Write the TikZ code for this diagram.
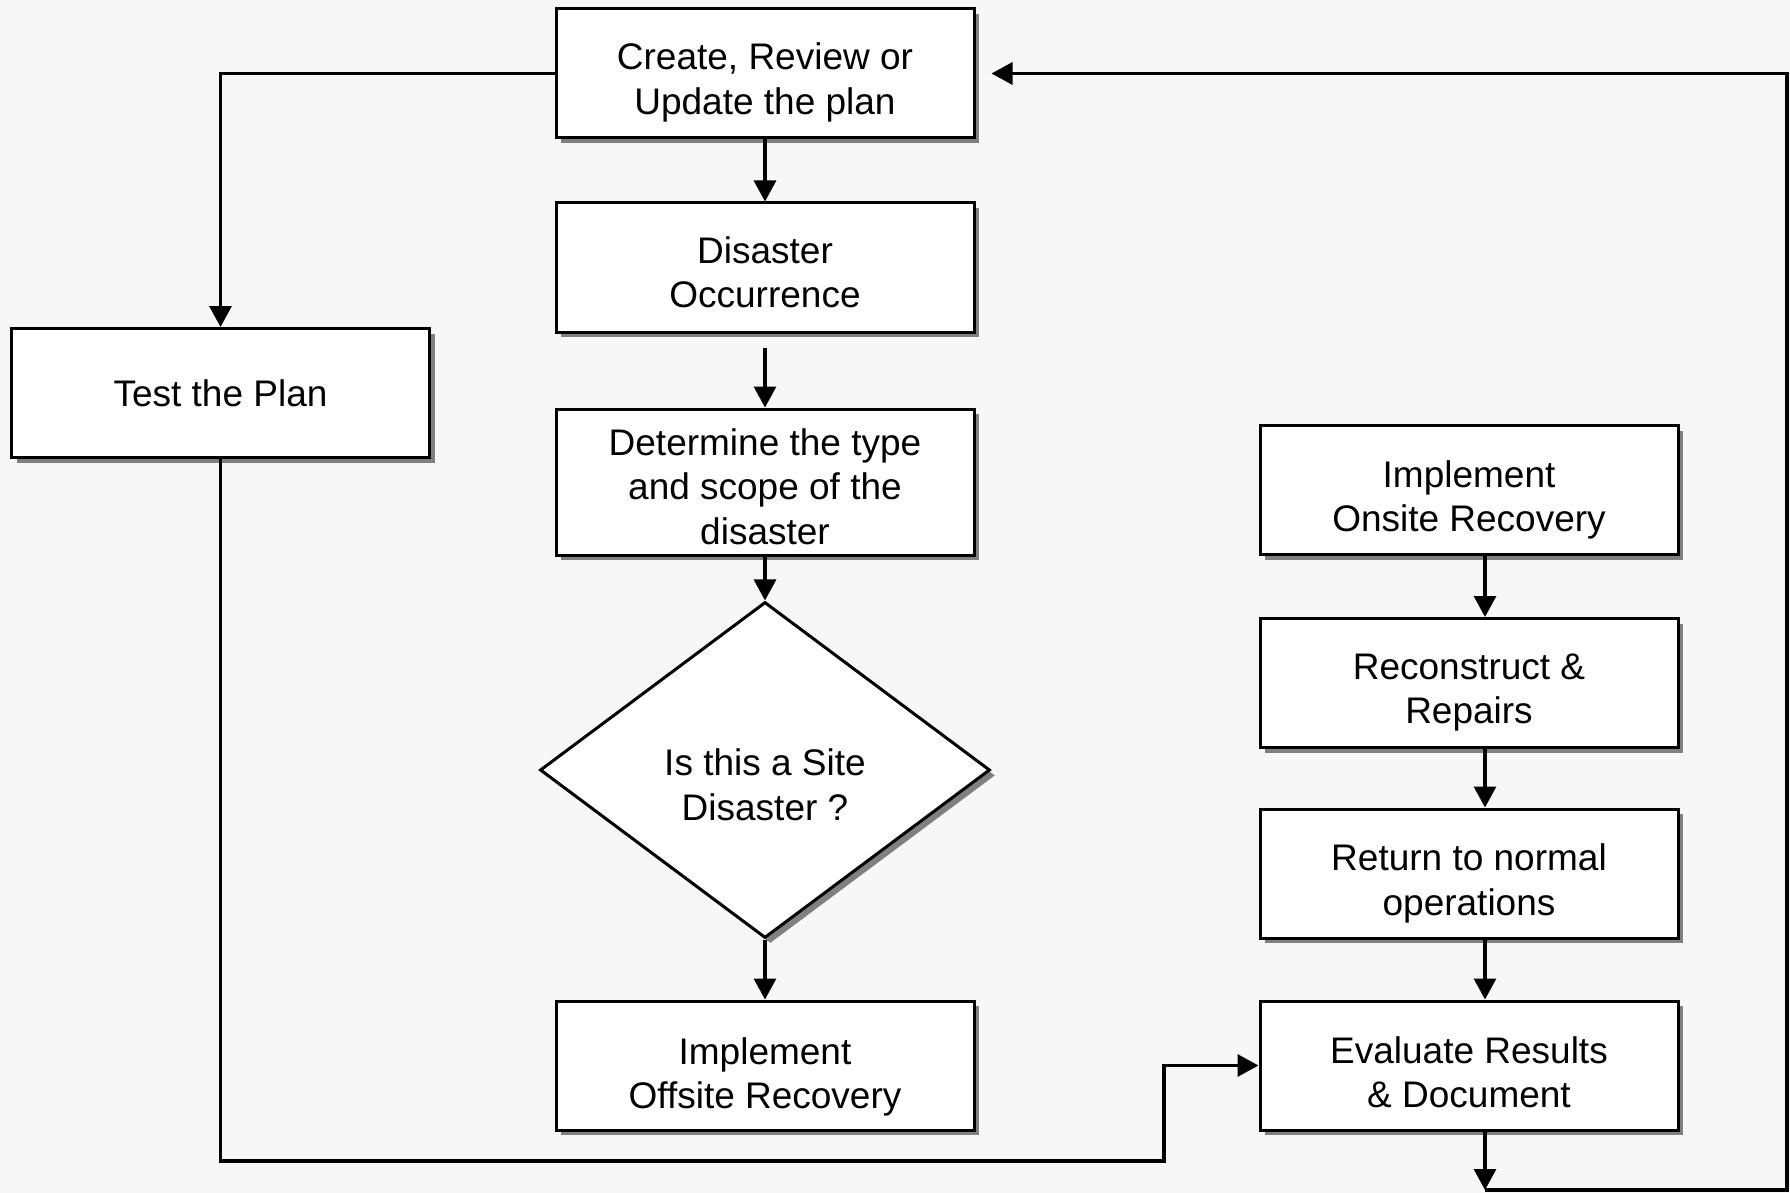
\documentclass[tikz,border=0pt]{standalone}
\usepackage{fontspec}
\setmainfont{Liberation Sans}
\usetikzlibrary{arrows.meta, shapes.geometric, shadows}
\definecolor{paper}{HTML}{F7F7F7}
\definecolor{shade}{HTML}{808080}
\tikzset{
  box/.style={rectangle, draw, fill=white, line width=1.5pt, align=center,
    minimum width=209pt, minimum height=64.5pt, inner sep=0pt,
    font=\fontsize{18.5}{22.3}\selectfont,
    drop shadow={shadow xshift=2.7pt, shadow yshift=-2.7pt, fill=shade, opacity=1}},
  decision/.style={diamond, draw, fill=white, line width=1.5pt, align=center,
    minimum width=225pt, minimum height=168pt, inner sep=0pt, aspect=1.34,
    font=\fontsize{18.5}{22.3}\selectfont,
    drop shadow={shadow xshift=2.7pt, shadow yshift=-2.7pt, fill=shade, opacity=1}},
  sink/.style={execute at begin node={\rule{0pt}{#1}}},
  line/.style={line width=1.6pt, -{Triangle[length=10.5pt,width=11pt]}}
}
\begin{document}
\begin{tikzpicture}[x=0.5pt,y=-0.5pt]
    % Background
    \fill[paper] (0,0) rectangle (1790,1193);
    \useasboundingbox (0,0) rectangle (1790,1193);
    % Middle column
    \node[box, sink=44.7pt] (plan) at (765,73.5) {Create, Review or\\Update the plan};
    \node[box, sink=40.3pt] (occur) at (765,267.5) {Disaster\\Occurrence};
    \node[box, sink=62.6pt, minimum height=73pt] (scope) at (765,482) {Determine the type\\and scope of the\\disaster};
    \node[decision, sink=50.7pt] (site) at (765,770) {Is this a Site\\Disaster ?};
    \node[box, sink=47.1pt] (offsite) at (765,1065.5) {Implement\\Offsite Recovery};
    % Left column
    \node[box] (test) at (220.5,393) {Test the Plan};
    % Right column
    \node[box, sink=45.7pt] (onsite) at (1469,490) {Implement\\Onsite Recovery};
    \node[box, sink=44.7pt] (repair) at (1469,683) {Reconstruct \&\\Repairs};
    \node[box, sink=45.7pt] (normal) at (1469,873.5) {Return to normal\\operations};
    \node[box, sink=42.5pt] (evaluate) at (1469,1065.5) {Evaluate Results\\\& Document};
    % Corner points
    \coordinate (low) at (1164,1161);
    \coordinate (foot) at (1485,1190);
    \coordinate (edge) at (1787,1190);
    \coordinate (top) at (1787,73.5);
    % Arrows
    \draw[line] (plan) -- (occur);
    \draw[line, shorten <=7pt] (occur) -- (scope);
    \draw[line] (scope) -- (site);
    \draw[line] (site) -- (offsite);
    \draw[line] (plan.west) -| (test.north);
    \draw[line] (test.south) |- (low) |- (evaluate.west);
    \draw[line] ([xshift=8pt]onsite.south) -- ([xshift=8pt]repair.north);
    \draw[line] ([xshift=8pt]repair.south) -- ([xshift=8pt]normal.north);
    \draw[line] ([xshift=8pt]normal.south) -- ([xshift=8pt]evaluate.north);
    \draw[line] ([xshift=8pt]evaluate.south) -- (foot);
    \draw[line, shorten >=8pt] (foot) -- (edge) -- (top) -- (plan.east);
\end{tikzpicture}
\end{document}
